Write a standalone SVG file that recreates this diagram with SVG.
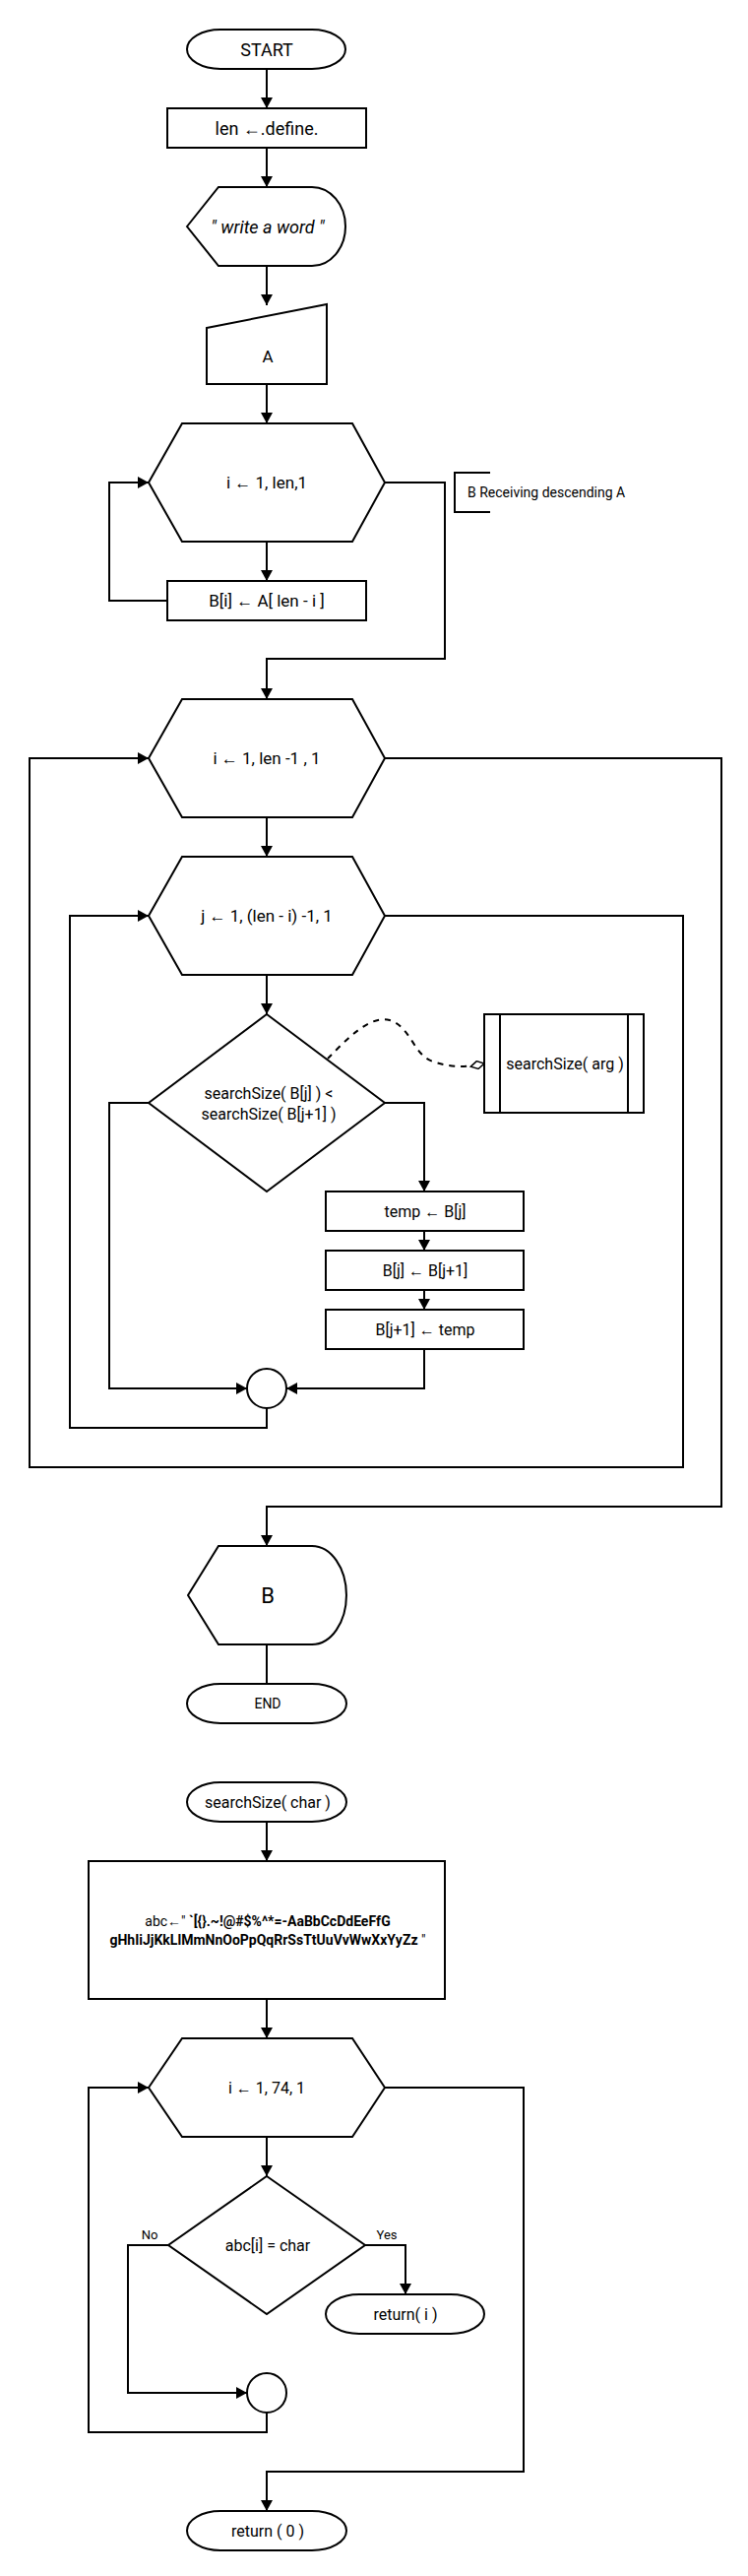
<svg xmlns="http://www.w3.org/2000/svg" width="760" height="2616" viewBox="0 0 760 2616">
<defs>
<style>
.s{fill:#fff;stroke:#000;stroke-width:2}
.c{fill:none;stroke:#000;stroke-width:2}
.t{font-family:Roboto,"Liberation Sans",sans-serif;font-size:17px;fill:#000;text-anchor:middle;dominant-baseline:central}
</style>
<marker id="arr" markerUnits="userSpaceOnUse" markerWidth="11" markerHeight="12" refX="11" refY="6" orient="auto"><path d="M0,0 L11,6 L0,12 z" fill="#000"/></marker>
<marker id="dia" markerUnits="userSpaceOnUse" markerWidth="16" markerHeight="10" refX="15" refY="5" orient="auto"><path d="M1,5 L8,1 L15,5 L8,9 z" fill="#fff" stroke="#000" stroke-width="1.5"/></marker>
</defs>
<rect width="760" height="2616" fill="#fff"/>
<g id="connectors">
<path class="c" marker-end="url(#arr)" d="M271,70 V110"/>
<path class="c" marker-end="url(#arr)" d="M271,150 V190"/>
<path class="c" marker-end="url(#arr)" d="M271,270 V310"/>
<path class="c" marker-end="url(#arr)" d="M271,390 V430"/>
<path class="c" marker-end="url(#arr)" d="M271,550 V590"/>
<path class="c" marker-end="url(#arr)" d="M170,610 H111 V490 H151"/>
<path class="c" marker-end="url(#arr)" d="M391,490 H452 V669 H271 V710"/>
<path class="c" marker-end="url(#arr)" d="M271,830 V870"/>
<path class="c" marker-end="url(#arr)" d="M271,990 V1030"/>
<path class="c" marker-end="url(#arr)" d="M391,1120 H431 V1210"/>
<path class="c" marker-end="url(#arr)" d="M431,1250 V1270"/>
<path class="c" marker-end="url(#arr)" d="M431,1310 V1330"/>
<path class="c" marker-end="url(#arr)" d="M431,1370 V1410 H291"/>
<path class="c" marker-end="url(#arr)" d="M151,1120 H111 V1410 H251"/>
<path class="c" marker-end="url(#arr)" d="M271,1430 V1450 H71 V930 H151"/>
<path class="c" marker-end="url(#arr)" d="M391,930 H694 V1490 H30 V770 H151"/>
<path class="c" marker-end="url(#arr)" d="M391,770 H733 V1530 H271 V1570"/>
<path class="c" d="M271,1670 V1710"/>
<path class="c" stroke-dasharray="6 6" marker-end="url(#dia)" d="M333,1075 C350,1058 375,1030 396,1036 C418,1043 420,1072 440,1078 C455,1083 470,1085 492,1080"/>
<path class="c" marker-end="url(#arr)" d="M271,1850 V1890"/>
<path class="c" marker-end="url(#arr)" d="M271,2030 V2070"/>
<path class="c" marker-end="url(#arr)" d="M271,2170 V2210"/>
<path class="c" marker-end="url(#arr)" d="M371,2280 H412 V2330"/>
<path class="c" marker-end="url(#arr)" d="M171,2280 H130 V2430 H251"/>
<path class="c" marker-end="url(#arr)" d="M271,2450 V2470 H90 V2120 H151"/>
<path class="c" marker-end="url(#arr)" d="M391,2120 H532 V2510 H271 V2550"/>
<text class="t" x="152" y="2269" style="font-size:13px">No</text>
<text class="t" x="393" y="2269" style="font-size:13px">Yes</text>
</g>
<g id="start">
<path class="s" d="M224,30 H317 A34,20 0 0 1 317,70 H224 A34,20 0 0 1 224,30 Z"/>
<text class="t" x="271" y="50" style="font-size:18px">START</text>
</g>
<g id="len">
<rect class="s" x="170" y="110" width="202" height="40"/>
<text class="t" x="271" y="130" style="font-size:18px">len ←.define.</text>
</g>
<g id="write">
<path class="s" d="M190,230 L222,190 H317 A34,40 0 0 1 317,270 H222 Z"/>
<text class="t" x="272" y="230" style="font-size:18px;font-style:italic">" write a word  "</text>
</g>
<g id="inputA">
<path class="s" d="M210,333 L332,309 V390 H210 Z"/>
<text class="t" x="272" y="362">A</text>
</g>
<g id="loop1">
<path class="s" d="M151,490 L185,430 H358 L391,490 L358,550 H185 Z"/>
<text class="t" x="271" y="490">i ← 1, len,1</text>
</g>
<g id="assignB">
<rect class="s" x="170" y="590" width="202" height="40"/>
<text class="t" x="271" y="610">B[i] ← A[ len - i ]</text>
</g>
<g id="note">
<path class="c" d="M498,480 H462 V520 H498"/>
<text class="t" x="475" y="500" style="font-size:14px;text-anchor:start">B Receiving descending A</text>
</g>
<g id="loop2">
<path class="s" d="M151,770 L185,710 H358 L391,770 L358,830 H185 Z"/>
<text class="t" x="271" y="770">i ← 1, len -1 , 1</text>
</g>
<g id="loop3">
<path class="s" d="M151,930 L185,870 H358 L391,930 L358,990 H185 Z"/>
<text class="t" x="271" y="930">j ← 1, (len - i) -1, 1</text>
</g>
<g id="cond1">
<path class="s" d="M271,1030 L391,1120 L271,1210 L151,1120 Z"/>
<text class="t" x="273" y="1110" style="font-size:16px">searchSize( B[j] ) &lt;</text>
<text class="t" x="273" y="1131" style="font-size:16px">searchSize( B[j+1] )</text>
</g>
<g id="sub">
<rect class="s" x="492" y="1030" width="162" height="100"/>
<path class="c" d="M508,1030 V1130 M638,1030 V1130"/>
<text class="t" x="574" y="1080" style="font-size:16px">searchSize( arg )</text>
</g>
<g id="temp">
<rect class="s" x="331" y="1210" width="201" height="40"/>
<text class="t" x="432" y="1230" style="font-size:16px">temp ← B[j]</text>
</g>
<g id="swap">
<rect class="s" x="331" y="1270" width="201" height="40"/>
<text class="t" x="432" y="1290" style="font-size:16px">B[j] ← B[j+1]</text>
</g>
<g id="restore">
<rect class="s" x="331" y="1330" width="201" height="40"/>
<text class="t" x="432" y="1350" style="font-size:16px">B[j+1] ← temp</text>
</g>
<g id="join1">
<circle class="s" cx="271" cy="1410" r="20"/>
</g>
<g id="outB">
<path class="s" d="M191,1620 L222,1570 H317 A35,50 0 0 1 317,1670 H222 Z"/>
<text class="t" x="272" y="1620" style="font-size:22px">B</text>
</g>
<g id="end">
<path class="s" d="M224,1710 H317 A35,20 0 0 1 317,1750 H224 A34,20 0 0 1 224,1710 Z"/>
<text class="t" x="272" y="1730" style="font-size:14px">END</text>
</g>
<g id="fstart">
<path class="s" d="M224,1810 H317 A35,20 0 0 1 317,1850 H224 A34,20 0 0 1 224,1810 Z"/>
<text class="t" x="272" y="1830" style="font-size:16px">searchSize( char )</text>
</g>
<g id="abc">
<rect class="s" x="90" y="1890" width="362" height="140"/>
<text class="t" x="272" y="1951" style="font-size:14px">abc←" <tspan font-weight="bold">`[{}.~!@#$%^*=-AaBbCcDdEeFfG</tspan></text>
<text class="t" x="272" y="1970" style="font-size:14px"><tspan font-weight="bold">gHhIiJjKkLlMmNnOoPpQqRrSsTtUuVvWwXxYyZz</tspan> "</text>
</g>
<g id="loop4">
<path class="s" d="M151,2120 L185,2070 H358 L391,2120 L358,2170 H185 Z"/>
<text class="t" x="271" y="2120" style="font-size:16px">i ← 1, 74, 1</text>
</g>
<g id="cond2">
<path class="s" d="M271,2210 L371,2280 L271,2350 L171,2280 Z"/>
<text class="t" x="272" y="2280" style="font-size:16px">abc[i] = char</text>
</g>
<g id="retI">
<path class="s" d="M365,2330 H458 A34,20 0 0 1 458,2370 H365 A34,20 0 0 1 365,2330 Z"/>
<text class="t" x="412" y="2350" style="font-size:16px">return( i )</text>
</g>
<g id="join2">
<circle class="s" cx="271" cy="2430" r="20"/>
</g>
<g id="ret0">
<path class="s" d="M224,2550 H317 A35,20 0 0 1 317,2590 H224 A34,20 0 0 1 224,2550 Z"/>
<text class="t" x="272" y="2570" style="font-size:16px">return ( 0 )</text>
</g>
</svg>
